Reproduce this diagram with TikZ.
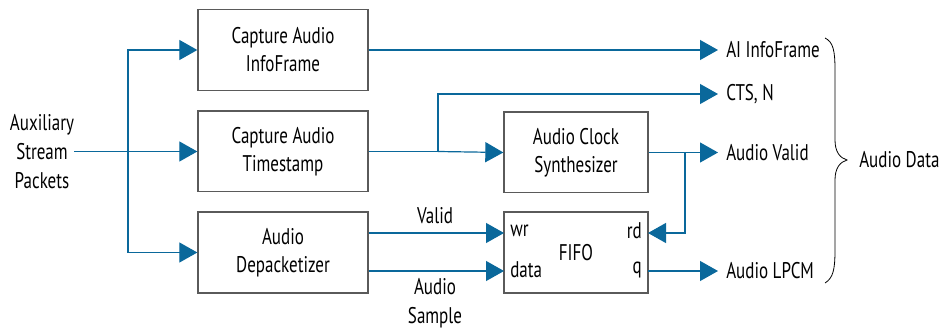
\documentclass[tikz,border=0pt]{standalone}
\usepackage{fontspec}
\setmainfont{PT Sans}[FakeStretch=0.75]
\usetikzlibrary{arrows.meta}
\definecolor{sigblue}{RGB}{10,104,155}
\definecolor{boxgray}{RGB}{90,90,90}
\tikzset{
  blk/.style={draw=boxgray, line width=1pt, minimum width=127.5pt, minimum height=60.5pt,
    align=center, inner sep=0pt, font=\fontsize{17}{21}\selectfont},
  txt/.style={align=center, inner sep=0pt, font=\fontsize{17}{21.5}\selectfont},
  outl/.style={anchor=west, inner sep=0pt, font=\fontsize{17}{21}\selectfont},
  wire/.style={draw=sigblue, line width=0.9pt},
  arr/.style={wire, -{Triangle[length=13.5pt,width=15pt]}},
}
\begin{document}
\begin{tikzpicture}[x=0.75pt,y=-0.75pt]
\useasboundingbox (0,0) rectangle (941,331);

% processing blocks
\node[blk] (cai) at (283,50) {Capture Audio\\InfoFrame};
\node[blk] (cat) at (283,151.5) {Capture Audio\\Timestamp};
\node[blk] (dep) at (283,252.5) {Audio\\Depacketizer};
\node[blk, minimum width=108pt] (acs) at (576,152.5) {Audio Clock\\Synthesizer};
\node[blk, minimum width=108pt] (fifo) at (576,252.5) {FIFO};

% FIFO ports
\coordinate (fwr) at (504,233);
\coordinate (fdata) at (504,271);
\coordinate (frd) at (648,233);
\coordinate (fq) at (648,271);
\node[txt, anchor=west] (lwr) at (510,231) {wr};
\node[txt, anchor=west] (ldata) at (510,270) {data};
\node[txt, anchor=east] (lrd) at (642,231) {rd};
\node[txt, anchor=east] (lq) at (642,270) {q};

% input
\node[txt] (aux) at (42,151.5) {Auxiliary\\Stream\\Packets};
\coordinate (tr) at (128,151.5);
\draw[arr] (aux.east) -- (cat.west);
\draw[arr] (tr) |- (cai.west);
\draw[arr] (tr) |- (dep.west);

% outputs
\node[outl] (aiif) at (726,50) {AI InfoFrame};
\node[outl] (cts) at (726,94) {CTS, N};
\node[outl] (av) at (726,152.5) {Audio Valid};
\node[outl] (lpcm) at (726,271) {Audio LPCM};
\coordinate (aiifin) at (718,50);
\coordinate (ctsin) at (718,94);
\coordinate (avin) at (718,152.5);
\coordinate (lpcmin) at (718,271);

\draw[arr] (cai.east) -- (aiifin);
\coordinate (br) at (438,151.5);
\draw[wire] (cat.east) -- (br);
\draw[arr] (br) -- (acs.west);
\draw[arr] (br) |- (ctsin);
\draw[arr] (acs.east) -- (avin);
\coordinate (sb) at (685,152.5);
\draw[arr] (sb) |- (frd);
\draw[arr] (fwr -| dep.east) -- (fwr);
\draw[arr] (fdata -| dep.east) -- (fdata);
\draw[arr] (fq) -- (lpcmin);

\node[txt] (lvalid) at (435,216) {Valid};
\node[txt] (lsample) at (435,303) {Audio\\Sample};

% grouping brace
\draw[line width=0.6pt] (825,38) .. controls (833,42) and (835,50) .. (835,70)
  -- (835,140) .. controls (835,152) and (840,158) .. (847,160)
  .. controls (840,162) and (835,168) .. (835,180)
  -- (835,250) .. controls (835,270) and (833,278) .. (825,283);
\node[outl] (adata) at (859,160) {Audio Data};
\end{tikzpicture}
\end{document}
